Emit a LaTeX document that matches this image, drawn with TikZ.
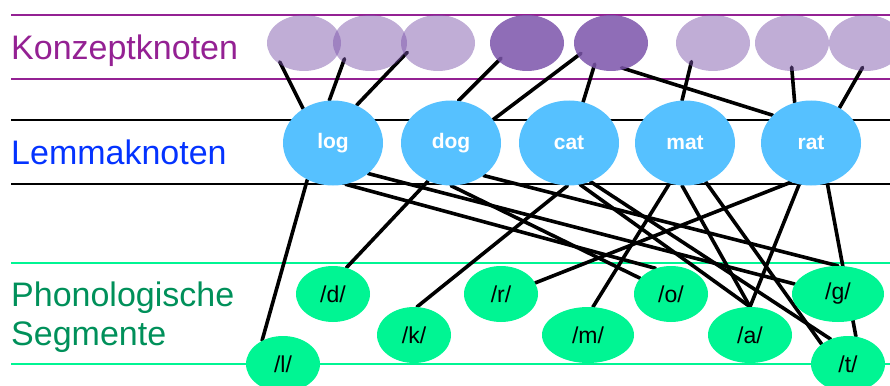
\documentclass[tikz,border=0pt]{standalone}
\usepackage{fontspec}
\setmainfont{Liberation Sans}
\usetikzlibrary{shapes.geometric}

\definecolor{plum}{HTML}{942193}
\definecolor{blueberry}{HTML}{0433FF}
\definecolor{moss}{HTML}{00905A}
\definecolor{seafoam}{HTML}{00F593}
\definecolor{sky}{HTML}{56C1FF}
\definecolor{lavendel}{HTML}{7B54AA}

\pgfdeclarelayer{bg}
\pgfsetlayers{bg,main}

\tikzset{
  ebene/.style={line width=2.2pt},
  titel/.style={anchor=base west, inner sep=0pt, align=left, font=\fontsize{34}{39}\selectfont},
  konzept/.style={ellipse, minimum width=74pt, minimum height=56pt, inner sep=0pt, fill=lavendel, fill opacity=0.48},
  aktiv/.style={konzept, fill opacity=0.85},
  lemma/.style={ellipse, minimum width=100pt, minimum height=85pt, inner sep=0pt, fill=sky, text=white, font=\bfseries\fontsize{21}{25}\selectfont},
  segment/.style={ellipse, minimum width=74pt, minimum height=56pt, inner sep=0pt, fill=seafoam, font=\fontsize{23}{27}\selectfont},
  link/.style={line width=3.6pt, line cap=round}
}

\begin{document}
\begin{tikzpicture}[x=1pt,y=-1pt]
\useasboundingbox (0,0) rectangle (890,385);

\node[titel, text=plum] (konzepte) at (11,60) {Konzeptknoten};
\node[titel, text=blueberry] (lemmata) at (11,164) {Lemmaknoten};
\node[titel, text=moss] (segmente) at (11,345) {Phonologische\\Segmente};

\node[konzept] (k1) at (304,43) {};
\node[konzept] (k2) at (370,43) {};
\node[konzept] (k3) at (438,43) {};
\node[aktiv] (k4) at (527,43) {};
\node[aktiv] (k5) at (611,43) {};
\node[konzept] (k6) at (713,43) {};
\node[konzept] (k7) at (792,43) {};
\node[konzept] (k8) at (866,43) {};

\node[lemma] (log) at (333,143) {log};
\node[lemma] (dog) at (451,143) {dog};
\node[lemma] (cat) at (569,143) {cat};
\node[lemma] (mat) at (685,143) {mat};
\node[lemma] (rat) at (811,143) {rat};

\node[segment] (pd) at (333,294) {/d/};
\node[segment] (pr) at (501,294) {/r/};
\node[segment] (po) at (671,294) {/o/};
\node[segment, minimum width=92pt] (pg) at (838,294) {/g/};
\node[segment] (pk) at (414,335) {/k/};
\node[segment, minimum width=92pt] (pm) at (588,335) {/m/};
\node[segment, minimum width=84pt] (pa) at (750,335) {/a/};
\node[segment] (pl) at (283,364) {/l/};
\node[segment] (pt) at (848,364) {/t/};

\begin{pgfonlayer}{bg}
\draw[ebene, plum] (11,15) -- (890,15);
\draw[ebene, plum] (11,79) -- (890,79);
\draw[ebene, black] (11,120) -- (890,120);
\draw[ebene, black] (11,184) -- (890,184);
\draw[ebene, seafoam] (11,263) -- (890,263);
\draw[ebene, seafoam] (11,364) -- (890,364);

\draw[link, shorten <=-4pt] (k1.225) -- (log.131);
\draw[link, shorten <=-4pt] (k2.216) -- (log.95);
\draw[link, shorten <=-4pt] (k3.200) -- (log.58);
\draw[link, shorten <=-4pt] (k4.212) -- (dog.80);
\draw[link, shorten <=-4pt] (k5.201) -- (dog.29);
\draw[link, shorten <=-4pt] (k5.235) -- (cat.71);
\draw[link, shorten <=-4pt] (k5.299) -- (rat.144);
\draw[link, shorten <=-4pt] (k6.225) -- (mat.94);
\draw[link, shorten <=-4pt] (k7.270) -- (rat.112);
\draw[link, shorten <=-4pt] (k8.259) -- (rat.51);

\draw[link] (log.235) -- (pl.132);
\draw[link] (log.287) -- (po.121);
\draw[link] (log.319) -- (pg.167);
\draw[link] (dog.239) -- (pd.63);
\draw[link] (dog.270) -- (po.153);
\draw[link] (dog.315) -- (pg.90);
\draw[link] (cat.268) -- (pk.84);
\draw[link] (cat.285) -- (pa.90);
\draw[link] (cat.299) -- (pt.125);
\draw[link] (mat.249) -- (pm.80);
\draw[link] (mat.266) -- (pa.90);
\draw[link] (mat.298) -- (pt.143);
\draw[link] (rat.243) -- (pr.18);
\draw[link] (rat.254) -- (pa.90);
\draw[link] (rat.292) -- (pt.74);
\end{pgfonlayer}
\end{tikzpicture}
\end{document}
